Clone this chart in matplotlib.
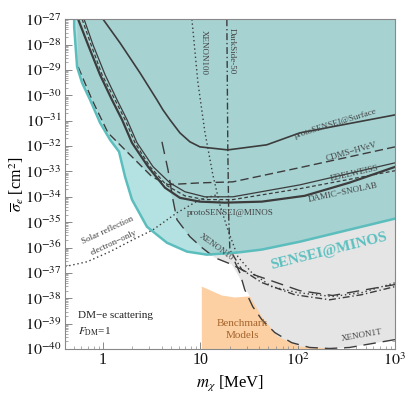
import numpy as np
import matplotlib
matplotlib.use('Agg')
import matplotlib.pyplot as plt
from matplotlib.patches import Polygon

# ---------------- data (log10 mass [MeV], log10 sigma_e [cm^2]) ----------------
sensei_lm = [-0.297, -0.297, -0.267, -0.215, -0.133, -0.031, 0.072, 0.164, 0.226, 0.297, 0.451, 0.656, 0.862, 1.067, 1.374, 1.631, 2.021, 3.0]
sensei_ls = [-27.0, -27.30, -28.88, -29.51, -30.18, -31.08, -31.75, -32.22, -33.21, -34.11, -35.18, -35.81, -36.16, -36.28, -36.20, -36.08, -35.77, -34.86]

envelope_lm = [-0.267, -0.256, -0.113, 0.051, 0.297, 0.503, 0.667, 0.718, 0.759, 0.892, 1.015, 1.149, 1.323, 1.385, 1.487, 1.631, 1.795, 2.021, 2.328, 2.533, 3.0]
envelope_ls = [-27.0, -28.88, -30.18, -31.48, -32.42, -33.21, -33.52, -34.11, -34.90, -35.57, -36.00, -36.40, -36.67, -37.07, -37.78, -38.72, -39.51, -39.90, -39.98, -39.94, -39.63]

surface_lm = [0.0, 0.174, 0.379, 0.554, 0.615, 0.687, 0.790, 0.892, 0.995, 1.282, 1.682, 2.021, 3.0]
surface_ls = [-27.0, -27.93, -29.11, -30.18, -30.57, -30.96, -31.48, -31.83, -32.03, -32.15, -31.95, -31.48, -30.77]

cdms_lm = [-0.256, -0.113, 0.051, 0.297, 0.503, 0.667, 0.995, 1.333, 2.021, 3.0]
cdms_ls = [-28.88, -30.18, -31.48, -32.42, -33.21, -33.52, -33.45, -33.41, -32.85, -32.03]

minos_lm = [-0.256, -0.154, -0.031, 0.092, 0.195, 0.297, 0.462, 0.636, 0.790, 0.995, 1.251, 1.631, 2.072, 2.533, 3.0]
minos_ls = [-27.0, -28.01, -29.19, -30.18, -30.96, -31.87, -32.81, -33.64, -34.04, -34.19, -34.23, -34.19, -33.96, -33.44, -32.82]

edel_lm = [-0.195, -0.103, 0.021, 0.144, 0.246, 0.349, 0.513, 0.687, 0.841, 1.046, 1.333, 2.021, 3.0]
edel_ls = [-27.0, -28.01, -29.19, -30.18, -30.96, -31.87, -32.81, -33.45, -33.80, -34.00, -34.00, -33.53, -32.66]

damic_lm = [-0.215, -0.123, -0.010, 0.123, 0.226, 0.328, 0.482, 0.656, 0.841, 1.046, 1.333, 2.021, 3.0]
damic_ls = [-27.0, -28.01, -29.19, -30.18, -30.96, -31.87, -32.81, -33.56, -33.96, -34.11, -34.11, -33.68, -32.97]

xe10_lm = [0.605, 0.667, 0.718, 0.759, 0.892, 1.015, 1.149, 1.323, 1.487, 1.692, 2.021, 2.359, 3.0]
xe10_ls = [-31.83, -32.93, -34.11, -34.90, -35.57, -36.00, -36.40, -36.67, -36.99, -37.26, -37.70, -37.89, -37.46]

xe100_lm = [0.913, 0.974, 1.046, 1.128, 1.200, 1.282, 1.385, 1.528, 1.733, 2.000, 2.359, 2.656, 3.0]
xe100_ls = [-27.0, -29.47, -31.44, -33.13, -34.31, -35.30, -36.36, -36.99, -37.54, -37.78, -37.93, -37.78, -37.39]

ds50_lm = [1.272, 1.282, 1.292, 1.303, 1.426, 1.631, 1.969, 2.328, 2.656, 3.0]
ds50_ls = [-27.0, -32.15, -34.90, -36.09, -36.87, -37.38, -37.86, -38.06, -37.86, -37.54]

xe1t_lm = [1.354, 1.405, 1.456, 1.538, 1.631, 1.764, 1.938, 2.123, 2.328, 2.533, 3.0]
xe1t_ls = [-36.56, -36.99, -37.66, -38.33, -38.84, -39.35, -39.75, -39.94, -39.98, -39.94, -39.63]

solar_lm = [-0.390, -0.164, 0.072, 0.308, 0.513, 0.759, 0.995, 1.169]
solar_ls = [-36.75, -36.56, -36.16, -35.69, -35.30, -34.63, -34.11, -33.92]

bench_lm = [1.015, 1.221, 1.354, 1.487, 1.610, 1.815, 2.021, 2.328]
bench_ls = [-37.54, -37.89, -37.97, -37.93, -37.93, -37.97, -38.05, -38.05]

yticks_exp = list(range(-27, -41, -1))
xticks_val = [1, 10, 100, 1000]
xtick_labels = ['1', '10', r'$10^{2}$', r'$10^{3}$']

# ---------------- style ----------------
plt.rcParams['mathtext.fontset'] = 'stix'
plt.rcParams['font.family'] = ['Liberation Serif', 'DejaVu Serif']

LINE = '#3c3c3c'
TEAL_LINE = '#5cbdbd'
DARK_TEAL = '#a7d2d2'
LIGHT_TEAL = '#b4e2e2'
GRAY = '#e5e5e5'
ORANGE = '#fdd0a4'

def pts(lm, ls):
    return 10 ** np.asarray(lm), 10 ** np.asarray(ls)

fig = plt.figure(figsize=(4.07, 3.96), dpi=100)
ax = fig.add_axes([0.160, 0.1187, 0.8105, 0.8326])
ax.set_xscale('log')
ax.set_yscale('log')
xmin, xmax = 10 ** -0.39, 1000.0
ymin, ymax = 1e-40, 1e-27
ax.set_xlim(xmin, xmax)
ax.set_ylim(ymin, ymax)

# benchmark models region
bx, by = pts(bench_lm, bench_ls)
bench_poly = np.column_stack([np.r_[bx, bx[-1], bx[0]], np.r_[by, ymin, ymin]])
ax.add_patch(Polygon(bench_poly, closed=True, facecolor=ORANGE, edgecolor='none', zorder=1))

# previous constraints region (gray)
ex, ey = pts(envelope_lm, envelope_ls)
env_poly = np.column_stack([np.r_[ex, xmax], np.r_[ey, ymax]])
ax.add_patch(Polygon(env_poly, closed=True, facecolor=GRAY, edgecolor='none', zorder=2))

# SENSEI@MINOS region
sx, sy = pts(sensei_lm, sensei_ls)
sen_poly = np.column_stack([np.r_[sx, xmax], np.r_[sy, ymax]])
sen_patch = Polygon(sen_poly, closed=True, facecolor=LIGHT_TEAL, edgecolor='none', zorder=3)
ax.add_patch(sen_patch)

# overlap region
overlap = Polygon(env_poly, closed=True, facecolor=DARK_TEAL, edgecolor='none', zorder=4)
ax.add_patch(overlap)
overlap.set_clip_path(sen_patch)

# SENSEI@MINOS line
ax.plot(sx, sy, color=TEAL_LINE, lw=1.8, zorder=8)

def line(lm, ls, **kw):
    x, y = pts(lm, ls)
    ax.plot(x, y, color=LINE, zorder=7, **kw)

line(surface_lm, surface_ls, lw=1.2)
line(minos_lm, minos_ls, lw=1.6)
line(edel_lm, edel_ls, lw=0.9)
line(damic_lm, damic_ls, lw=0.9, dashes=(3, 2))
line(cdms_lm, cdms_ls, lw=1.0, dashes=(6, 3))
line(xe10_lm, xe10_ls, lw=1.0, dashes=(9, 5))
line(xe1t_lm, xe1t_ls, lw=1.0, dashes=(9, 5))
line(xe100_lm, xe100_ls, lw=1.0, dashes=(1, 2))
line(ds50_lm, ds50_ls, lw=1.0, dashes=(5, 2, 1, 2))
line(solar_lm, solar_ls, lw=1.0, dashes=(1, 2))

# ---------------- labels ----------------
TXT = '#444444'
def lab(lm, ls, s, rot=0, size=6.5, **kw):
    ax.text(10 ** lm, 10 ** ls, s, rotation=rot, rotation_mode='anchor',
            ha=kw.pop('ha', 'center'), va=kw.pop('va', 'center'), fontsize=size,
            color=kw.pop('color', TXT), zorder=10, **kw)

lab(1.036, -28.29, 'XENON100', rot=-90)
lab(1.323, -28.27, 'DarkSide-50', rot=-90)
lab(2.390, -31.12, 'protoSENSEI@Surface', rot=17)
lab(2.554, -32.23, 'CDMS\u2212HVeV', rot=16)
lab(2.585, -33.09, 'EDELWEISS', rot=13)
lab(2.462, -33.84, 'DAMIC\u2212SNOLAB', rot=12)
lab(1.303, -34.63, 'protoSENSEI@MINOS')
lab(1.169, -36.00, 'XENON10', rot=-36)
lab(0.051, -35.34, 'Solar reflection', rot=25)
lab(0.113, -35.81, 'electron\u2212only', rot=25)
lab(2.318, -36.16, 'SENSEI@MINOS', rot=14, size=11, color='#5cc0c0', fontweight='bold')
lab(1.436, -39.24, 'Benchmark\nModels', size=8, color='#a5652c', linespacing=1.4)
lab(2.656, -39.47, 'XENON1T', rot=10)
lab(-0.256, -38.68, 'DM\u2212e scattering', size=8, color='#222222', ha='left')
lab(-0.256, -39.31, r'$F_{\mathrm{DM}}$=1', size=8, color='#222222', ha='left')

# ---------------- axes ----------------
ax.set_yticks([10.0 ** e for e in yticks_exp])
ax.set_yticklabels([r'$10^{%d}$' % e for e in yticks_exp])
ax.set_xticks(xticks_val)
ax.set_xticklabels(xtick_labels)
ax.tick_params(which='both', direction='in', top=True, right=True, color='#888888',
               labelsize=11.5, labelcolor='#111111')
ax.tick_params(which='major', length=5, width=0.7, pad=2.5)
ax.tick_params(which='minor', length=2.5, width=0.5)
ax.yaxis.set_minor_locator(matplotlib.ticker.LogLocator(base=10, subs=np.arange(2, 10), numticks=50))
ax.yaxis.set_minor_formatter(matplotlib.ticker.NullFormatter())
for sp in ax.spines.values():
    sp.set_color('#888888')
    sp.set_linewidth(0.8)
    sp.set_zorder(11)

ax.set_xlabel(r'$m_{\chi}$ [MeV]', fontsize=12)
ax.xaxis.set_label_coords(0.5, -0.075)
ax.set_ylabel(r'$\overline{\sigma}_{e}$ [cm$^{2}$]', fontsize=11.5)
ax.yaxis.set_label_coords(-0.12, 0.5)

fig.savefig('out.png', dpi=100)
